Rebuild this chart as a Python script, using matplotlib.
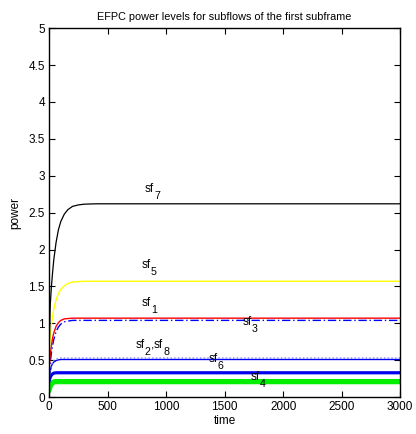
import matplotlib
matplotlib.use('Agg')
import matplotlib.pyplot as plt
import numpy as np

plt.rcParams['font.family'] = ['Liberation Sans', 'DejaVu Sans']

# sample times
t = [0, 10, 20, 30, 40, 60, 80, 100, 130, 160, 200, 250, 300, 400, 3000]

sf7 = [0.6, 1.25, 1.5, 1.69, 1.86, 2.1, 2.27, 2.38, 2.48, 2.54, 2.585, 2.605, 2.615, 2.62, 2.62]
sf5 = [0.6, 0.82, 0.98, 1.1, 1.19, 1.32, 1.4, 1.46, 1.51, 1.54, 1.56, 1.565, 1.57, 1.57, 1.57]
sf1 = [0.4, 0.57, 0.7, 0.8, 0.87, 0.96, 1.01, 1.04, 1.06, 1.065, 1.07, 1.07, 1.07, 1.07, 1.07]
sf3 = [0.3, 0.47, 0.6, 0.7, 0.78, 0.89, 0.95, 0.99, 1.02, 1.03, 1.04, 1.04, 1.04, 1.04, 1.04]
sf8 = [0.25, 0.36, 0.43, 0.47, 0.495, 0.515, 0.525, 0.53, 0.53, 0.53, 0.53, 0.53, 0.53, 0.53, 0.53]
sf2 = [0.25, 0.35, 0.42, 0.455, 0.475, 0.495, 0.505, 0.51, 0.51, 0.51, 0.51, 0.51, 0.51, 0.51, 0.51]
sf6 = [0.22, 0.27, 0.3, 0.315, 0.325, 0.33, 0.33, 0.33, 0.33, 0.33, 0.33, 0.33, 0.33, 0.33, 0.33]
sf4 = [0.1, 0.15, 0.18, 0.195, 0.205, 0.21, 0.21, 0.21, 0.21, 0.21, 0.21, 0.21, 0.21, 0.21, 0.21]

# label anchor (time, power) and subscripts
labels = [(820, 2.78, ['7']), (790, 1.75, ['5']), (790, 1.23, ['1']), (1650, 0.98, ['3']),
          (740, 0.66, ['2', '8']), (1360, 0.48, ['6']), (1720, 0.23, ['4'])]

fig = plt.figure(figsize=(4.16, 4.34), dpi=100)
ax = fig.add_axes([0.118, 0.085, 0.844, 0.850])

ax.plot(t, sf4, color='#00ee00', lw=3.8)
ax.plot(t, sf6, color='#0000ee', lw=2.3)
ax.plot(t, sf2, color='#0000ee', lw=1.0)
ax.plot(t, sf8, color='#8080ff', lw=1.0, ls=':')
ax.plot(t, sf3, color='#0000ff', lw=1.0, ls='-.', dashes=(6, 2, 1, 2))
ax.plot(t, sf1, color='#ff0000', lw=1.0)
ax.plot(t, sf5, color='#ffff00', lw=1.0)
ax.plot(t, sf7, color='black', lw=0.9)

fs = 8.5
afs = 8.5
sfw = 0.778 * afs      # width of 'sf' in points
dw = 0.556 * afs * 0.9  # width of subscript digit
cw = 0.278 * afs        # comma
for x, y, subs in labels:
    off = 0
    for i, d in enumerate(subs):
        if i > 0:
            ax.annotate(',', (x, y), xytext=(off, 0), textcoords='offset points', fontsize=afs, va='baseline')
            off += cw
        ax.annotate('sf', (x, y), xytext=(off, 0), textcoords='offset points', fontsize=afs, va='baseline')
        off += sfw
        ax.annotate(d, (x, y), xytext=(off, -5), textcoords='offset points', fontsize=afs * 0.9, va='baseline')
        off += dw

ax.set_xlim(0, 3000)
ax.set_ylim(0, 5)
ax.set_xticks([0, 500, 1000, 1500, 2000, 2500, 3000])
ax.set_yticks([0, 0.5, 1, 1.5, 2, 2.5, 3, 3.5, 4, 4.5, 5])
ax.set_yticklabels(['0', '0.5', '1', '1.5', '2', '2.5', '3', '3.5', '4', '4.5', '5'])
ax.tick_params(direction='in', top=True, right=True, labelsize=fs, length=4, width=0.8, pad=3)
for s in ax.spines.values():
    s.set_linewidth(1.0)

ax.set_xlabel('time', fontsize=fs, labelpad=1)
ax.set_ylabel('power', fontsize=fs, labelpad=5)
ax.set_title('EFPC power levels for subflows of the first subframe', fontsize=7.8, pad=6)

plt.savefig('out.png', dpi=100)
